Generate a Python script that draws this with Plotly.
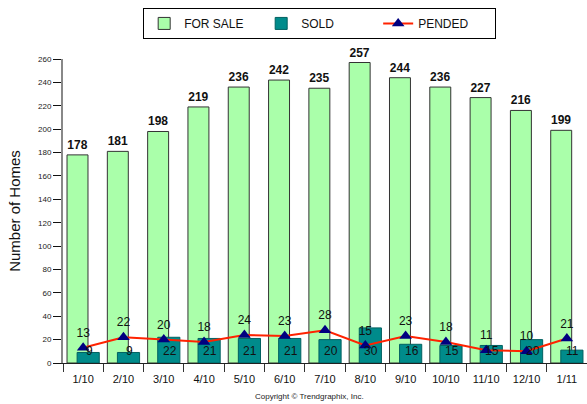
import plotly.graph_objects as go

months = ["1/10", "2/10", "3/10", "4/10", "5/10", "6/10", "7/10", "8/10", "9/10", "10/10", "11/10", "12/10", "1/11"]
for_sale = [178, 181, 198, 219, 236, 242, 235, 257, 244, 236, 227, 216, 199]
sold = [9, 9, 22, 21, 21, 21, 20, 30, 16, 15, 15, 20, 11]
pended = [13, 22, 20, 18, 24, 23, 28, 15, 23, 18, 11, 10, 21]
y_ticks = list(range(0, 261, 20))

FONT = "Arial, Liberation Sans, sans-serif"

fig = go.Figure()
fig.add_trace(go.Bar(
    x=months, y=for_sale, name="FOR SALE",
    offset=-0.4, width=0.52,
    marker=dict(color="#AAFFAA", line=dict(color="#333333", width=1)),
    text=[str(v) for v in for_sale], textposition="outside",
    textfont=dict(family=FONT, size=12, color="#111111", weight="bold"),
    cliponaxis=False,
))
fig.add_trace(go.Bar(
    x=months, y=sold, name="SOLD",
    offset=-0.15, width=0.55,
    marker=dict(color="#008B8B", line=dict(color="#006060", width=1)),
))
fig.add_trace(go.Scatter(
    x=months, y=pended, name="PENDED",
    mode="lines+markers+text",
    line=dict(color="#FF2200", width=2),
    marker=dict(symbol="triangle-up", size=11, color="#000080"),
    text=[str(v) for v in pended], textposition="top center",
    textfont=dict(family=FONT, size=12, color="#111111"),
    cliponaxis=False,
))

for m, v in zip(months, sold):
    fig.add_annotation(
        x=m, y=0, xref="x", yref="y", text=str(v), showarrow=False,
        xshift=6, yshift=12,
        font=dict(family=FONT, size=12, color="#111111"),
    )

fig.add_annotation(
    x=0.47, y=0, xref="paper", yref="paper", yanchor="middle",
    yshift=-33,
    text="Copyright © Trendgraphix, Inc.", showarrow=False,
    font=dict(family=FONT, size=8, color="#222222"),
)

fig.update_layout(
    width=587, height=404,
    margin=dict(l=63, r=0, t=59, b=41, autoexpand=False),
    paper_bgcolor="white", plot_bgcolor="white",
    barmode="overlay",
    font=dict(family=FONT, color="#111111"),
    showlegend=True,
    legend=dict(
        orientation="h", x=0.153, xanchor="left", y=1.168, yanchor="top",
        bordercolor="black", borderwidth=1, bgcolor="white",
        font=dict(family=FONT, size=12, color="#111111"),
        entrywidth=72, traceorder="normal",
    ),
    xaxis=dict(
        type="category", range=[-0.5, len(months) - 0.5],
        showline=True, linecolor="#222222", linewidth=1,
        ticks="outside", tickson="boundaries", ticklen=8, tickcolor="#333333",
        tickfont=dict(family=FONT, size=11, color="#111111"),
        ticklabelstandoff=6,
        showgrid=False, zeroline=False, automargin=False,
    ),
    yaxis=dict(
        range=[0, 260], tickvals=y_ticks,
        showline=True, linecolor="#888888", linewidth=2,
        ticks="outside", ticklen=8, tickcolor="#111111",
        tickfont=dict(family=FONT, size=8, color="#222222"),
        showgrid=False, zeroline=False, automargin=False,
        title=dict(text="Number of Homes", font=dict(family=FONT, size=15, color="#111111"), standoff=14),
    ),
)

fig.write_html(
    "out.html",
    config={"displayModeBar": False},
    post_script="document.body.style.margin='0';document.body.style.overflow='hidden';",
)
